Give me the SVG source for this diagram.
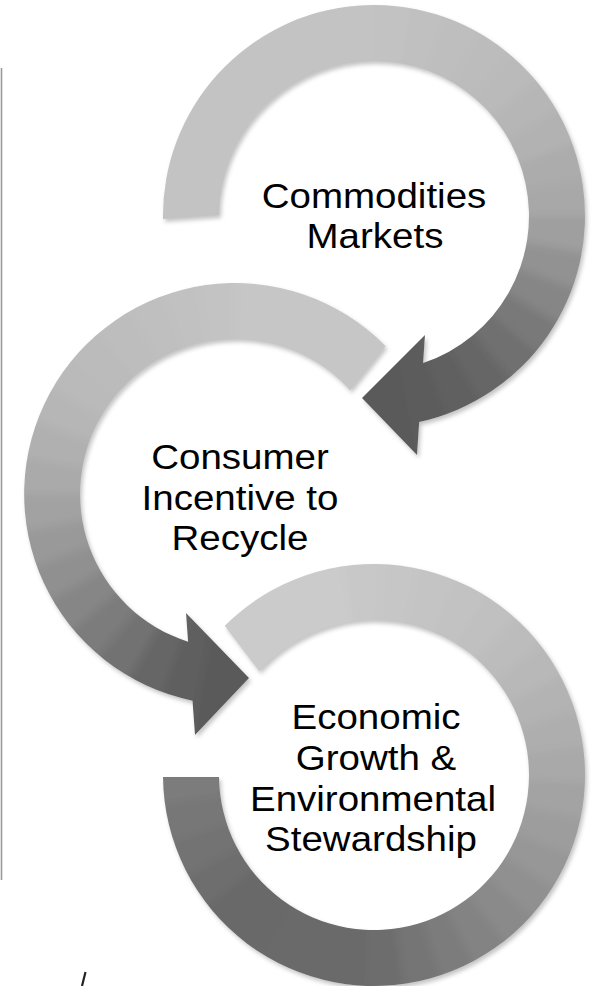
<svg xmlns="http://www.w3.org/2000/svg" width="592" height="986" viewBox="0 0 592 986">
<style>
.seg{fill:none;stroke-width:140;stroke-dasharray:38.5 2000}
.lbl{font-family:"Liberation Sans",Arial,sans-serif;font-size:35px;fill:#000;text-anchor:middle}
.edge{stroke:#9a9a9a;stroke-width:1.6;fill:none}
</style>
<defs>
<clipPath id="c1"><path d="M163,219 A211,211 0 1 1 419.2,422.1 L417,455 L362,398 L425,335 L423.1,363 A155,155 0 1 0 219,215 Z"/></clipPath>
<clipPath id="c2"><path d="M385.5,346 A211,211 0 1 0 192.5,700.7 L195,735 L249,678 L186,613 L188.1,641.7 A155,155 0 1 1 350,390 Z"/></clipPath>
<clipPath id="c3"><path d="M224.8,625.8 A211,211 0 1 1 163,777 L219,777 A155,155 0 1 0 259.2,670.9 Z"/></clipPath>
<filter id="sh" x="-10%" y="-10%" width="125%" height="125%">
<feGaussianBlur in="SourceAlpha" stdDeviation="2"/>
<feOffset dx="2" dy="3" result="b"/>
<feFlood flood-color="#c4c4c4"/>
<feComposite in2="b" operator="in"/>
<feMerge><feMergeNode/><feMergeNode in="SourceGraphic"/></feMerge>
</filter>
<filter id="sm" x="-10%" y="-10%" width="120%" height="120%">
<feGaussianBlur stdDeviation="4"/>
</filter>
</defs>
<rect width="592" height="986" fill="#fff"/>
<line class="edge" x1="1.5" y1="68" x2="1.5" y2="880"/>
<g id="connectors">
<line x1="85.5" y1="972" x2="82" y2="986" stroke="#222" stroke-width="2.2"/>
</g>
<g id="node-commodities">
<g filter="url(#sh)"><g clip-path="url(#c1)"><g transform="translate(374,216)" filter="url(#sm)">
<circle class="seg" r="183" stroke="#c3c3c3" style="stroke-dasharray:358 2000" transform="rotate(170)"/>
<circle class="seg" r="183" stroke="#c2c2c2" transform="rotate(270)"/>
<circle class="seg" r="183" stroke="#c0c0c0" transform="rotate(280)"/>
<circle class="seg" r="183" stroke="#bebebe" transform="rotate(290)"/>
<circle class="seg" r="183" stroke="#bcbcbc" transform="rotate(300)"/>
<circle class="seg" r="183" stroke="#bababa" transform="rotate(310)"/>
<circle class="seg" r="183" stroke="#b6b6b6" transform="rotate(320)"/>
<circle class="seg" r="183" stroke="#b2b2b2" transform="rotate(330)"/>
<circle class="seg" r="183" stroke="#acacac" transform="rotate(340)"/>
<circle class="seg" r="183" stroke="#a8a8a8" transform="rotate(350)"/>
<circle class="seg" r="183" stroke="#9f9f9f" transform="rotate(360)"/>
<circle class="seg" r="183" stroke="#929292" transform="rotate(370)"/>
<circle class="seg" r="183" stroke="#868686" transform="rotate(380)"/>
<circle class="seg" r="183" stroke="#797979" transform="rotate(390)"/>
<circle class="seg" r="183" stroke="#6f6f6f" transform="rotate(400)"/>
<circle class="seg" r="183" stroke="#666666" transform="rotate(410)"/>
<circle class="seg" r="183" stroke="#606060" transform="rotate(420)"/>
<circle class="seg" r="183" stroke="#5c5c5c" transform="rotate(430)"/>
<circle class="seg" r="183" stroke="#5a5a5a" style="stroke-dasharray:96 2000" transform="rotate(440)"/>
</g></g></g>
<text class="lbl" transform="translate(374,208) scale(1.1,1)">Commodities</text>
<text class="lbl" transform="translate(375,248) scale(1.1,1)">Markets</text>
</g>
<g id="node-consumer">
<g filter="url(#sh)"><g clip-path="url(#c2)"><g transform="translate(235,494)" filter="url(#sm)">
<circle class="seg" r="183" stroke="#c6c6c6" style="stroke-dasharray:205 2000" transform="rotate(-92)"/>
<circle class="seg" r="183" stroke="#c3c3c3" transform="rotate(-102)"/>
<circle class="seg" r="183" stroke="#c1c1c1" transform="rotate(-112)"/>
<circle class="seg" r="183" stroke="#bfbfbf" transform="rotate(-122)"/>
<circle class="seg" r="183" stroke="#bdbdbd" transform="rotate(-132)"/>
<circle class="seg" r="183" stroke="#bbbbbb" transform="rotate(-142)"/>
<circle class="seg" r="183" stroke="#bababa" transform="rotate(-152)"/>
<circle class="seg" r="183" stroke="#b6b6b6" transform="rotate(-162)"/>
<circle class="seg" r="183" stroke="#b0b0b0" transform="rotate(-172)"/>
<circle class="seg" r="183" stroke="#aaaaaa" transform="rotate(-182)"/>
<circle class="seg" r="183" stroke="#a2a2a2" transform="rotate(-192)"/>
<circle class="seg" r="183" stroke="#999999" transform="rotate(-202)"/>
<circle class="seg" r="183" stroke="#909090" transform="rotate(-212)"/>
<circle class="seg" r="183" stroke="#868686" transform="rotate(-222)"/>
<circle class="seg" r="183" stroke="#7c7c7c" transform="rotate(-232)"/>
<circle class="seg" r="183" stroke="#727272" transform="rotate(-242)"/>
<circle class="seg" r="183" stroke="#666666" transform="rotate(-252)"/>
<circle class="seg" r="183" stroke="#5f5f5f" transform="rotate(-262)"/>
<circle class="seg" r="183" stroke="#5a5a5a" style="stroke-dasharray:71 2000" transform="rotate(-282)"/>
</g></g></g>
<text class="lbl" transform="translate(240,469) scale(1.1,1)">Consumer</text>
<text class="lbl" transform="translate(240,510) scale(1.1,1)">Incentive to</text>
<text class="lbl" transform="translate(240,550) scale(1.1,1)">Recycle</text>
</g>
<g id="node-economic">
<g filter="url(#sh)"><g clip-path="url(#c3)"><g transform="translate(374,775)" filter="url(#sm)">
<circle class="seg" r="183" stroke="#cbcbcb" style="stroke-dasharray:198 2000" transform="rotate(-150)"/>
<circle class="seg" r="183" stroke="#c8c8c8" transform="rotate(-98)"/>
<circle class="seg" r="183" stroke="#c6c6c6" transform="rotate(-88)"/>
<circle class="seg" r="183" stroke="#c4c4c4" transform="rotate(-78)"/>
<circle class="seg" r="183" stroke="#c2c2c2" transform="rotate(-68)"/>
<circle class="seg" r="183" stroke="#c0c0c0" transform="rotate(-58)"/>
<circle class="seg" r="183" stroke="#bcbcbc" transform="rotate(-48)"/>
<circle class="seg" r="183" stroke="#b8b8b8" transform="rotate(-38)"/>
<circle class="seg" r="183" stroke="#b3b3b3" transform="rotate(-28)"/>
<circle class="seg" r="183" stroke="#aeaeae" transform="rotate(-18)"/>
<circle class="seg" r="183" stroke="#a9a9a9" transform="rotate(-8)"/>
<circle class="seg" r="183" stroke="#a3a3a3" transform="rotate(2)"/>
<circle class="seg" r="183" stroke="#9d9d9d" transform="rotate(12)"/>
<circle class="seg" r="183" stroke="#979797" transform="rotate(22)"/>
<circle class="seg" r="183" stroke="#909090" transform="rotate(32)"/>
<circle class="seg" r="183" stroke="#8a8a8a" transform="rotate(42)"/>
<circle class="seg" r="183" stroke="#838383" transform="rotate(52)"/>
<circle class="seg" r="183" stroke="#7c7c7c" transform="rotate(62)"/>
<circle class="seg" r="183" stroke="#747474" transform="rotate(72)"/>
<circle class="seg" r="183" stroke="#6d6d6d" transform="rotate(82)"/>
<circle class="seg" r="183" stroke="#6b6b6b" transform="rotate(92)"/>
<circle class="seg" r="183" stroke="#6a6a6a" transform="rotate(102)"/>
<circle class="seg" r="183" stroke="#6a6a6a" transform="rotate(112)"/>
<circle class="seg" r="183" stroke="#696969" transform="rotate(122)"/>
<circle class="seg" r="183" stroke="#696969" transform="rotate(132)"/>
<circle class="seg" r="183" stroke="#6e6e6e" transform="rotate(142)"/>
<circle class="seg" r="183" stroke="#737373" transform="rotate(152)"/>
<circle class="seg" r="183" stroke="#777777" transform="rotate(162)"/>
<circle class="seg" r="183" stroke="#7c7c7c" transform="rotate(172)"/>
<circle class="seg" r="183" stroke="#7d7d7d" transform="rotate(182)"/>
</g></g></g>
<text class="lbl" transform="translate(376,729) scale(1.1,1)">Economic</text>
<text class="lbl" transform="translate(376,770) scale(1.1,1)">Growth &amp;</text>
<text class="lbl" transform="translate(373,811) scale(1.1,1)">Environmental</text>
<text class="lbl" transform="translate(371,851) scale(1.1,1)">Stewardship</text>
</g>
</svg>
